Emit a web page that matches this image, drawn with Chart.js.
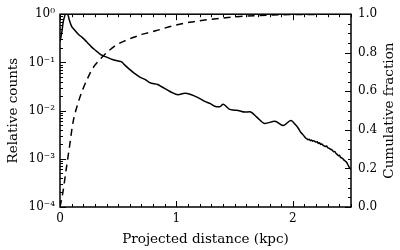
<!DOCTYPE html>
<html><head><meta charset="utf-8">
<script src="https://cdn.jsdelivr.net/npm/chart.js@4.4.1/dist/chart.umd.min.js"></script>
<style>html,body{margin:0;padding:0;background:#fff}canvas{display:block}</style>
</head><body>
<canvas id="c" width="400" height="250"></canvas>
<script>
// ---- data ----
const countX = [0, 0.01, 0.02, 0.025, 0.035, 0.05, 0.065, 0.08, 0.10, 0.125, 0.155, 0.19, 0.215, 0.24, 0.27, 0.31, 0.35, 0.40, 0.45, 0.50, 0.53, 0.555, 0.60, 0.64, 0.69, 0.74, 0.77, 0.84, 0.87, 0.914, 0.957, 1.014, 1.071, 1.129, 1.186, 1.244, 1.287, 1.344, 1.373, 1.401, 1.453, 1.50, 1.53, 1.588, 1.631, 1.688, 1.76, 1.846, 1.917, 1.984, 2.02, 2.05, 2.06, 2.07, 2.08, 2.09, 2.10, 2.11, 2.12, 2.13, 2.14, 2.15, 2.16, 2.17, 2.18, 2.19, 2.20, 2.21, 2.22, 2.23, 2.24, 2.25, 2.26, 2.27, 2.28, 2.29, 2.30, 2.31, 2.32, 2.33, 2.34, 2.35, 2.36, 2.37, 2.38, 2.39, 2.40, 2.41, 2.42, 2.43, 2.44, 2.45, 2.46, 2.47, 2.48, 2.49, 2.50];
const countY = [0.275, 0.355, 0.50, 0.63, 0.83, 1.0, 1.0, 0.76, 0.56, 0.47, 0.39, 0.33, 0.29, 0.25, 0.21, 0.174, 0.145, 0.129, 0.115, 0.107, 0.102, 0.089, 0.071, 0.059, 0.049, 0.043, 0.038, 0.0347, 0.0316, 0.0275, 0.024, 0.0214, 0.0229, 0.0214, 0.0186, 0.0155, 0.0141, 0.012, 0.012, 0.0135, 0.0107, 0.0102, 0.010, 0.0093, 0.0095, 0.0074, 0.0054, 0.0060, 0.0049, 0.0062, 0.0052, 0.0042, 0.0038, 0.0035, 0.0033, 0.0031, 0.0029, 0.0027, 0.00262, 0.00248, 0.00255, 0.00238, 0.00246, 0.00232, 0.00238, 0.00228, 0.00222, 0.00226, 0.00208, 0.00214, 0.00198, 0.00204, 0.00190, 0.00186, 0.00180, 0.00184, 0.00170, 0.00166, 0.00160, 0.00156, 0.00150, 0.00140, 0.00142, 0.00130, 0.00124, 0.00116, 0.00118, 0.00108, 0.00104, 0.00100, 0.00094, 0.00090, 0.00086, 0.00078, 0.00070, 0.00064, 0.00060];
const cumX = [0, 0.025, 0.053, 0.082, 0.110, 0.153, 0.196, 0.239, 0.282, 0.34, 0.411, 0.483, 0.57, 0.641, 0.72, 0.828, 0.971, 1.114, 1.258, 1.401, 1.545, 1.688, 1.831, 1.975, 2.2, 2.5];
const cumY = [0, 0.077, 0.195, 0.315, 0.433, 0.535, 0.61, 0.67, 0.72, 0.763, 0.806, 0.84, 0.865, 0.882, 0.898, 0.915, 0.94, 0.958, 0.971, 0.98, 0.988, 0.993, 0.996, 0.998, 0.999, 1.0];
const xTicks = [0, 1, 2];
const xTickLabels = ['0', '1', '2'];
const countTicks = [1e-4, 1e-3, 1e-2, 1e-1, 1];
const countTickLabels = ['10\u207B\u2074', '10\u207B\u00B3', '10\u207B\u00B2', '10\u207B\u00B9', '10\u2070'];
const cumTicks = [0, 0.2, 0.4, 0.6, 0.8, 1.0];
const cumTickLabels = ['0.0', '0.2', '0.4', '0.6', '0.8', '1.0'];
const xTitle = 'Projected distance (kpc)';
const leftTitle = 'Relative counts';
const rightTitle = 'Cumulative fraction';

const F = 'DejaVu Serif';
const tickFont = {family: F, size: 12};
const titleFont = {family: F, size: 13.5};

const framePlugin = {
  id: 'frame',
  afterDatasetsDraw(chart) {
    const {ctx, chartArea: a, scales} = chart;
    const x = scales.x, y = scales.y, y2 = scales.y2;
    ctx.save();
    ctx.strokeStyle = '#000';
    ctx.lineWidth = 1;
    ctx.beginPath();
    for (let i = 0; i <= 25; i++) {
      const px = Math.round(x.getPixelForValue(i / 10)) + 0.5;
      const L = (i % 10 === 0) ? 6 : 3;
      ctx.moveTo(px, a.bottom); ctx.lineTo(px, a.bottom - L);
      ctx.moveTo(px, a.top); ctx.lineTo(px, a.top + L);
    }
    for (let e = -4; e <= 0; e++) {
      const py = Math.round(y.getPixelForValue(Math.pow(10, e))) + 0.5;
      ctx.moveTo(a.left, py); ctx.lineTo(a.left + 6, py);
      if (e < 0) {
        for (let m = 2; m <= 9; m++) {
          const q = Math.round(y.getPixelForValue(m * Math.pow(10, e))) + 0.5;
          ctx.moveTo(a.left, q); ctx.lineTo(a.left + 3, q);
        }
      }
    }
    for (let i = 0; i <= 20; i++) {
      const py = Math.round(y2.getPixelForValue(i / 20)) + 0.5;
      const L = (i % 4 === 0) ? 6 : 3;
      ctx.moveTo(a.right, py); ctx.lineTo(a.right - L, py);
    }
    ctx.stroke();
    ctx.lineWidth = 1.5;
    ctx.strokeRect(a.left, a.top, a.right - a.left, a.bottom - a.top);
    // right axis title, reading bottom to top
    ctx.fillStyle = '#000';
    ctx.font = titleFont.size + 'px "' + F + '"';
    ctx.textAlign = 'center';
    ctx.textBaseline = 'middle';
    ctx.translate(389, (a.top + a.bottom) / 2);
    ctx.rotate(-Math.PI / 2);
    ctx.fillText(rightTitle, 0, 0);
    ctx.restore();
  }
};

new Chart(document.getElementById('c'), {
  type: 'line',
  data: {
    datasets: [
      {
        label: 'Relative counts',
        data: countX.map((v, i) => ({x: v, y: countY[i]})),
        yAxisID: 'y',
        borderColor: '#000',
        borderWidth: 1.5,
        pointRadius: 0,
        cubicInterpolationMode: 'monotone',
        fill: false
      },
      {
        label: 'Cumulative fraction',
        data: cumX.map((v, i) => ({x: v, y: cumY[i]})),
        yAxisID: 'y2',
        borderColor: '#000',
        borderWidth: 1.5,
        borderDash: [7, 5],
        pointRadius: 0,
        cubicInterpolationMode: 'monotone',
        fill: false
      }
    ]
  },
  options: {
    responsive: false,
    animation: false,
    devicePixelRatio: 1,
    layout: {padding: {top: 10, left: 0, right: 0, bottom: 0}},
    plugins: {legend: {display: false}, tooltip: {enabled: false}},
    scales: {
      x: {
        type: 'linear', min: 0, max: 2.5,
        afterBuildTicks: s => { s.ticks = xTicks.map(v => ({value: v})); },
        afterFit: s => { s.height = 43; },
        ticks: {autoSkip: false, maxRotation: 0, padding: 5, font: tickFont, color: '#000',
                callback: (v, i) => xTickLabels[i]},
        grid: {display: false, drawTicks: false},
        border: {display: false},
        title: {display: true, text: xTitle, font: titleFont, color: '#000', padding: {top: 0, bottom: 2}}
      },
      y: {
        type: 'logarithmic', position: 'left', min: 1e-4, max: 1,
        afterBuildTicks: s => { s.ticks = countTicks.map(v => ({value: v})); },
        afterFit: s => { s.width = 60; },
        ticks: {autoSkip: false, padding: 5, font: tickFont, color: '#000',
                callback: (v, i) => countTickLabels[i]},
        grid: {display: false, drawTicks: false},
        border: {display: false},
        title: {display: true, text: leftTitle, font: titleFont, color: '#000', padding: {top: 5, bottom: 0}}
      },
      y2: {
        type: 'linear', position: 'right', min: 0, max: 1,
        afterBuildTicks: s => { s.ticks = cumTicks.map(v => ({value: v})); },
        afterFit: s => { s.width = 49; },
        ticks: {autoSkip: false, padding: 7, font: tickFont, color: '#000',
                callback: (v, i) => cumTickLabels[i]},
        grid: {display: false, drawTicks: false},
        border: {display: false}
      }
    }
  },
  plugins: [framePlugin]
});
</script>
</body></html>
